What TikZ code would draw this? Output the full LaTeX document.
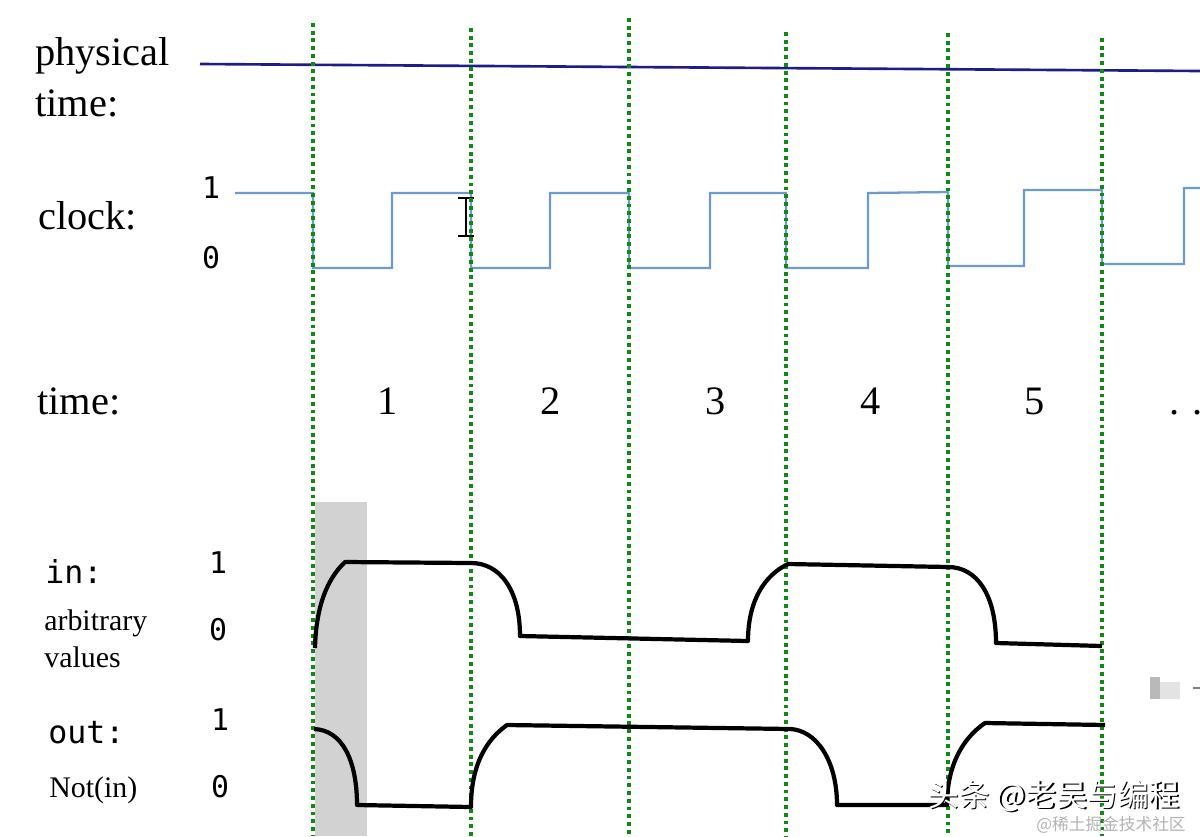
\documentclass[tikz,border=0pt]{standalone}
\usepackage{fontspec}
\setmainfont{Liberation Serif}
\newfontfamily\monofont{DejaVu Sans Mono}
\newfontfamily\cjkfont{Noto Sans CJK SC}

\definecolor{taktfarbe}{HTML}{6B9BD1}
\definecolor{zeitfarbe}{HTML}{1C1C8C}
\definecolor{gitterfarbe}{HTML}{118A11}

\tikzset{
	gitter/.style={gitterfarbe, line width=2.2pt, dash pattern=on 2.2pt off 2.2pt},
	takt/.style={taktfarbe, line width=1.3pt},
	signal/.style={black, line width=2.4pt, line join=round},
	beschriftung/.style={inner sep=0pt, anchor=base west, font=\fontsize{23}{27}\selectfont},
	klein/.style={inner sep=0pt, anchor=base west, font=\fontsize{17}{20}\selectfont},
	code/.style={inner sep=0pt, anchor=base west, font=\monofont\fontsize{18}{21}\selectfont},
	wert/.style={inner sep=0pt, anchor=base, font=\monofont\fontsize{17}{20}\selectfont},
	zahl/.style={inner sep=0pt, anchor=base, font=\fontsize{23}{27}\selectfont}
}

\begin{document}
\begin{tikzpicture}[x=0.02cm, y=-0.02cm]
	
	% Bildgröße festlegen
	\useasboundingbox (0,0) rectangle (1200,836);
	
	% Grauer Bereich (erster Takt)
	\fill[gray!35] (315,502) rectangle (367,836);
	
	% Linie der physikalischen Zeit
	\node[beschriftung] (physical) at (35,65) {physical};
	\node[beschriftung] (ptime) at (35,116) {time:};
	\draw[zeitfarbe, line width=1.5pt] (200,64) -- (1200,71);
	
	% Taktsignal
	\node[beschriftung] (clock) at (38,229) {clock:};
	\node[wert] (clockeins) at (211,198) {1};
	\node[wert] (clocknull) at (211,268) {0};
	\draw[takt] (235,193) -- (313,193) -- (313,268) -- (392,268) -- (392,193)
		-- (471,193) -- (471,268) -- (550,268) -- (550,193)
		-- (629,193) -- (629,268) -- (710,268) -- (710,193)
		-- (786,193) -- (786,268) -- (868,268) -- (868,193)
		-- (948,192) -- (948,266) -- (1024,266) -- (1024,190)
		-- (1102,190) -- (1102,264) -- (1184,264) -- (1184,188) -- (1200,188);
	
	% Cursor (I-Balken)
	\draw[white, line width=2.6pt] (466,198) -- (466,236);
	\draw[black, line width=1.2pt] (466,198) -- (466,236);
	\draw[black, line width=1.4pt] (458,198) -- (474,198);
	\draw[black, line width=1.4pt] (458,236) -- (474,236);
	
	% Zeitschritte
	\node[beschriftung] (time) at (37,414) {time:};
	\foreach \x/\n in {388/1, 551/2, 716/3, 871/4, 1035/5}
		\node[zahl] (schritt\n) at (\x,414) {\n};
	\node[beschriftung] (weiter) at (1169,414) {. . .};
	
	% Vertikale Trennlinien (gepunktet)
	\foreach \x/\y in {313/23, 471/28, 629/18, 786/32, 948/33, 1102/38}
		\draw[gitter] (\x,\y) -- (\x,836);
	
	% Eingangssignal
	\node[code] (in) at (45,583) {in:};
	\node[klein] (arbitrary) at (44,630) {arbitrary};
	\node[klein] (values) at (44,667) {values};
	\node[wert] (ineins) at (218,573) {1};
	\node[wert] (innull) at (218,640) {0};
	\draw[signal] (315,648) .. controls (316,605) and (328,578) .. (345,562)
		-- (471,563) .. controls (500,563) and (520,590) .. (520,636)
		-- (748,641) .. controls (748,600) and (765,575) .. (788,564)
		-- (948,567) .. controls (977,567) and (996,595) .. (996,643)
		-- (1102,646);
	
	% Ausgangssignal Not(in)
	\node[code] (out) at (48,743) {out:};
	\node[klein] (notin) at (49,797) {Not(in)};
	\node[wert] (outeins) at (220,730) {1};
	\node[wert] (outnull) at (220,797) {0};
	\draw[signal] (314,729) .. controls (342,730) and (357,760) .. (357,805)
		-- (471,807) .. controls (471,765) and (486,740) .. (507,725)
		-- (790,729) .. controls (816,730) and (837,760) .. (837,805)
		-- (947,805) .. controls (947,765) and (963,738) .. (985,723)
		-- (1105,725);
	
	% Reste am rechten Rand
	\fill[gray!55] (1150,677) rectangle (1160,699);
	\fill[gray!22] (1160,682) rectangle (1180,699);
	\draw[gray, line width=1pt] (1193,688) -- (1200,688);
	
	% Wasserzeichen
	\node[inner sep=0pt, anchor=base west, black, font=\cjkfont\fontsize{17.5}{20}\selectfont] (wmschatten) at (929.5,807.5) {头条 @老吴与编程};
	\node[inner sep=0pt, anchor=base west, white, font=\cjkfont\fontsize{17.5}{20}\selectfont] (wm) at (928,806) {头条 @老吴与编程};
	\node[inner sep=0pt, anchor=base west, gray!60, font=\cjkfont\fontsize{9.5}{12}\selectfont] (wmklein) at (1036,830) {@稀土掘金技术社区};
	
\end{tikzpicture}
\end{document}
